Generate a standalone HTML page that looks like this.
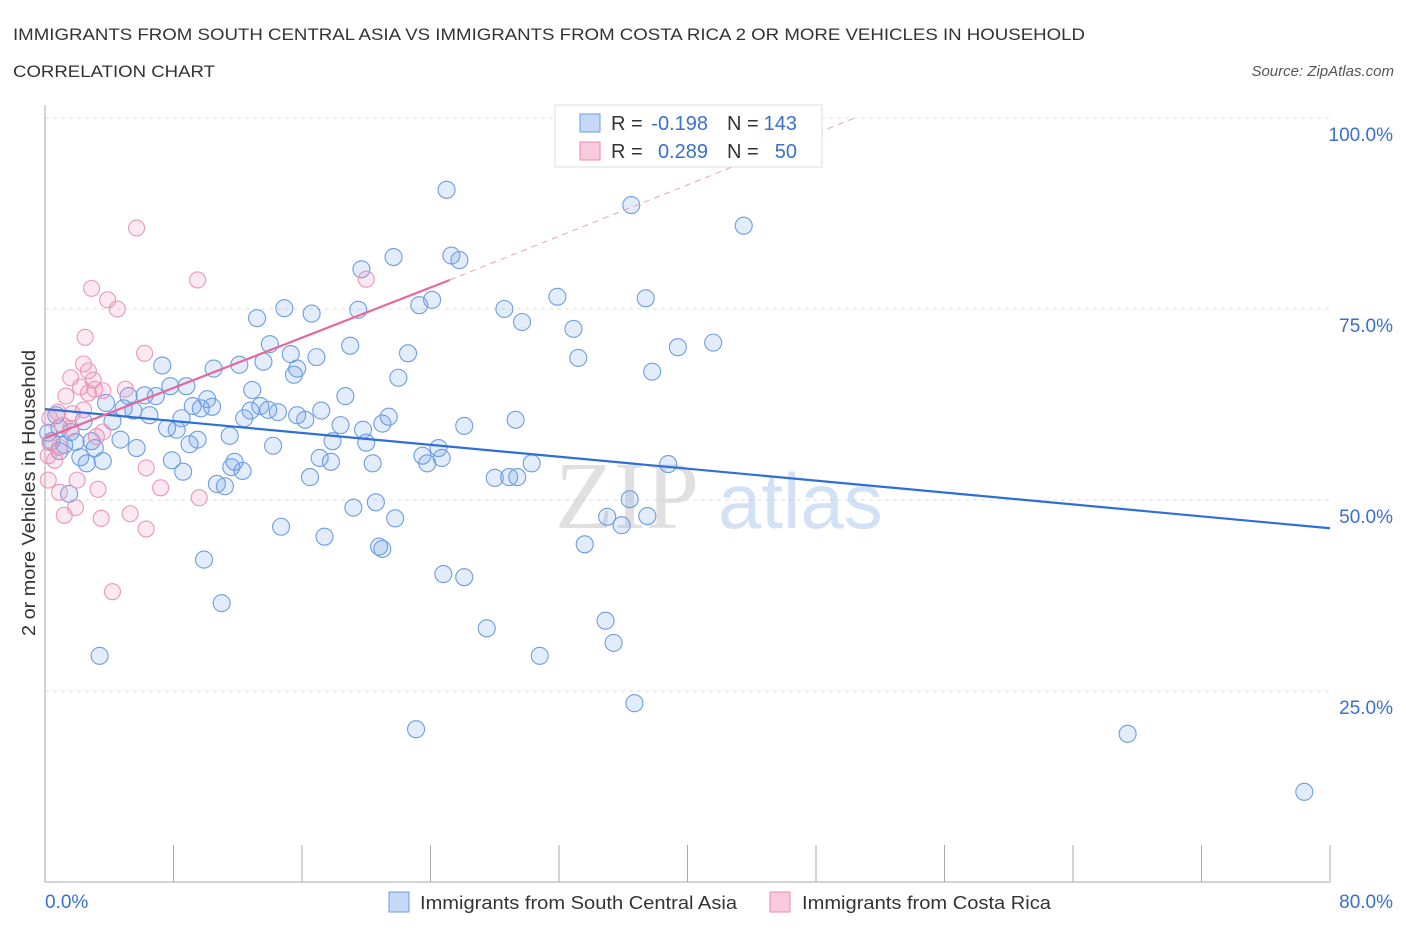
<!DOCTYPE html>
<html><head><meta charset="utf-8"><style>
body{margin:0;background:#fff;font-family:"Liberation Sans",sans-serif}
svg{display:block}
</style></head><body>
<svg id="c" width="1406" height="930" xmlns="http://www.w3.org/2000/svg">
<text x="13" y="40" font-size="17" fill="#333" textLength="1072" lengthAdjust="spacingAndGlyphs">IMMIGRANTS FROM SOUTH CENTRAL ASIA VS IMMIGRANTS FROM COSTA RICA 2 OR MORE VEHICLES IN HOUSEHOLD</text>
<text x="13" y="77" font-size="17" fill="#333" textLength="202" lengthAdjust="spacingAndGlyphs">CORRELATION CHART</text>
<text x="1394" y="76" font-size="15" fill="#555" font-style="italic" text-anchor="end">Source: ZipAtlas.com</text>
<g id="grid"></g>
<g><text x="555" y="528" font-size="96" font-family="Liberation Serif,serif" fill="#ccc" opacity="0.6">ZIP</text><text x="718" y="528" font-size="78" fill="#a9c4ea" opacity="0.5">atlas</text></g>
<g id="pts"></g>
<g id="trend"></g>
<text x="35" y="493" font-size="18" fill="#333" text-anchor="middle" textLength="286" lengthAdjust="spacingAndGlyphs" transform="rotate(-90 35 493)">2 or more Vehicles in Household</text>
<text x="45" y="908" font-size="19" fill="#3a6fd0">0.0%</text>
<text x="1393" y="908" font-size="19" fill="#3a6fd0" text-anchor="end">80.0%</text>
<g>
<rect x="555" y="105" width="267" height="62" fill="#fff" stroke="#ddd"/>
<rect x="580" y="114" width="20" height="18" fill="#c5d9f7" stroke="#6a9be0"/>
<rect x="580" y="142" width="20" height="18" fill="#f9cadb" stroke="#e88bb0"/>
<text x="611" y="130" font-size="20" fill="#333">R =</text>
<text x="708" y="130" font-size="20" fill="#3a6fd0" text-anchor="end">-0.198</text>
<text x="727" y="130" font-size="20" fill="#333">N =</text>
<text x="797" y="130" font-size="20" fill="#3a6fd0" text-anchor="end">143</text>
<text x="611" y="158" font-size="20" fill="#333">R =</text>
<text x="708" y="158" font-size="20" fill="#3a6fd0" text-anchor="end">0.289</text>
<text x="727" y="158" font-size="20" fill="#333">N =</text>
<text x="797" y="158" font-size="20" fill="#3a6fd0" text-anchor="end">50</text>
</g>
<g>
<rect x="389" y="892" width="20" height="20" fill="#c5d9f7" stroke="#6a9be0"/>
<text x="420" y="909" font-size="18" fill="#333" textLength="317" lengthAdjust="spacingAndGlyphs">Immigrants from South Central Asia</text>
<rect x="770" y="892" width="20" height="20" fill="#f9cadb" stroke="#e88bb0"/>
<text x="802" y="909" font-size="18" fill="#333" textLength="249" lengthAdjust="spacingAndGlyphs">Immigrants from Costa Rica</text>
</g>
</svg>
<script>
const yTicks=[25,50,75,100];
const yTickLabels=["25.0%","50.0%","75.0%","100.0%"];
const xTicks=[0,8,16,24,32,40,48,56,64,72,80];
const blueX=[25.0,36.5,43.5,21.7,25.3,25.8,19.7,31.9,37.4,24.1,23.3,14.9,28.6,16.6,19.5,13.2,29.7,32.9,14.0,19.0,41.6,39.4,22.6,15.3,16.9,33.2,13.6,12.1,7.3,10.5,15.7,15.5,37.8,22.0,8.8,7.8,12.9,18.7,6.2,6.9,5.2,10.1,3.8,9.2,10.4,13.4,9.7,12.8,13.9,14.5,17.2,15.7,16.2,21.4,4.9,5.5,6.5,8.5,12.4,4.2,29.3,21.0,26.1,18.4,2.4,7.6,8.2,0.9,1.6,0.2,11.5,19.8,4.7,2.9,1.9,9.5,9.0,17.9,20.0,5.7,14.2,24.5,0.9,3.1,23.5,24.7,17.1,7.9,2.2,3.6,2.6,11.8,17.8,20.4,23.8,30.3,38.8,11.6,12.3,8.6,16.5,28.0,28.9,29.4,10.7,11.2,1.5,20.6,36.4,19.2,21.8,35.0,37.5,35.9,14.7,17.4,20.8,21.0,33.6,9.9,24.8,26.1,11.0,34.9,27.5,35.4,3.4,30.8,36.7,23.1,67.4,78.4,0.7,0.4,1.2];
const blueY=[90.6,88.6,85.9,81.8,82.0,81.4,80.2,76.6,76.4,76.2,75.5,75.1,75.0,74.4,74.9,73.8,73.3,72.4,70.4,70.2,70.6,70.0,69.2,69.1,68.7,68.6,68.1,67.7,67.6,67.2,67.2,66.4,66.8,66.0,64.9,64.9,64.4,63.6,63.7,63.6,63.6,63.2,62.7,62.3,62.2,62.3,62.0,61.7,61.8,61.5,61.7,61.1,60.5,60.9,62.0,61.7,61.1,60.7,60.7,60.3,60.5,60.0,59.7,59.8,60.3,59.4,59.2,59.4,58.9,58.8,58.4,59.2,57.9,57.7,57.6,57.9,57.3,57.7,57.5,56.8,57.1,56.8,56.4,56.8,55.8,55.5,55.5,55.2,55.6,55.1,54.8,55.0,55.0,54.8,54.8,54.8,54.7,54.3,53.8,53.7,53.0,52.9,53.0,53.0,52.1,51.8,50.8,49.7,50.1,49.0,47.6,47.8,47.9,46.7,46.5,45.2,43.9,43.6,44.2,42.2,40.3,39.9,36.5,34.2,33.2,31.3,29.6,29.6,23.4,20.0,19.4,11.8,61.1,57.7,57.2];
const pinkX=[5.7,9.5,20.0,2.9,3.9,4.5,2.5,6.2,2.4,2.7,1.6,3.0,2.2,3.1,5.0,3.6,1.3,2.7,0.8,2.4,1.7,0.3,1.1,1.6,3.2,3.6,0.3,0.9,0.2,0.6,6.3,2.0,0.2,3.3,7.2,0.9,9.6,1.9,1.2,5.3,3.5,6.3,4.2];
const pinkY=[85.6,78.8,78.9,77.7,76.2,75.0,71.3,69.2,67.8,66.9,66.0,65.7,64.8,64.5,64.5,64.3,63.6,64.0,61.5,61.8,61.3,60.7,59.8,59.4,58.3,58.9,57.5,56.9,55.8,55.2,54.2,52.6,52.6,51.4,51.6,51.0,50.3,49.0,48.0,48.2,47.6,46.2,38.0];
const blueTrend=[[0,61.9],[80,46.3]];
const pinkTrend=[[0,58.1],[25.2,78.8]];
const pinkDash=[[25.2,78.8],[50.4,100]];
const X=v=>45+v/80*1285, Y=v=>882-v/100*764;
const NS="http://www.w3.org/2000/svg";
function mk(t,a,p){const e=document.createElementNS(NS,t);for(const k in a)e.setAttribute(k,a[k]);p.appendChild(e);return e;}
const g=document.getElementById('grid');
yTicks.forEach((t,i)=>{const l=mk('line',{x1:45,x2:1330,y1:Y(t),y2:Y(t),stroke:'#ddd','stroke-dasharray':'4,4'},g);


const tx=mk('text',{x:1393,y:Y(t)+23,'font-size':19,fill:'#3a6fd0','text-anchor':'end'},g);tx.textContent=yTickLabels[i];

});
const ax=mk('line',{x1:45,x2:45,y1:105,y2:882,stroke:'#aaa'},g);


const bx=mk('line',{x1:45,x2:1330,y1:882,y2:882,stroke:'#aaa'},g);


xTicks.forEach(t=>{const l=mk('line',{x1:X(t),x2:X(t),y1:845,y2:882,stroke:'#aaa'},g);

});
const p=document.getElementById('pts');
blueX.forEach((v,i)=>{const c=mk('circle',{cx:X(v),cy:Y(blueY[i]),r:8.5,fill:'rgba(110,160,235,0.2)',stroke:'#6d9de2','stroke-width':1.1},p);

});
pinkX.forEach((v,i)=>{const c=mk('circle',{cx:X(v),cy:Y(pinkY[i]),r:8,fill:'rgba(240,140,180,0.2)',stroke:'#e898b8','stroke-width':1.1},p);

});
const tr=document.getElementById('trend');
const b=mk('line',{x1:X(blueTrend[0][0]),y1:Y(blueTrend[0][1]),x2:X(blueTrend[1][0]),y2:Y(blueTrend[1][1]),stroke:'#2d6fd6','stroke-width':2.2},tr);


const pk=mk('line',{x1:X(pinkTrend[0][0]),y1:Y(pinkTrend[0][1]),x2:X(pinkTrend[1][0]),y2:Y(pinkTrend[1][1]),stroke:'#e4689a','stroke-width':2.2},tr);


const pd=mk('line',{x1:X(pinkDash[0][0]),y1:Y(pinkDash[0][1]),x2:X(pinkDash[1][0]),y2:Y(pinkDash[1][1]),stroke:'#eaa0be','stroke-width':1,'stroke-dasharray':'6,5'},tr);


</script>
</body></html>
